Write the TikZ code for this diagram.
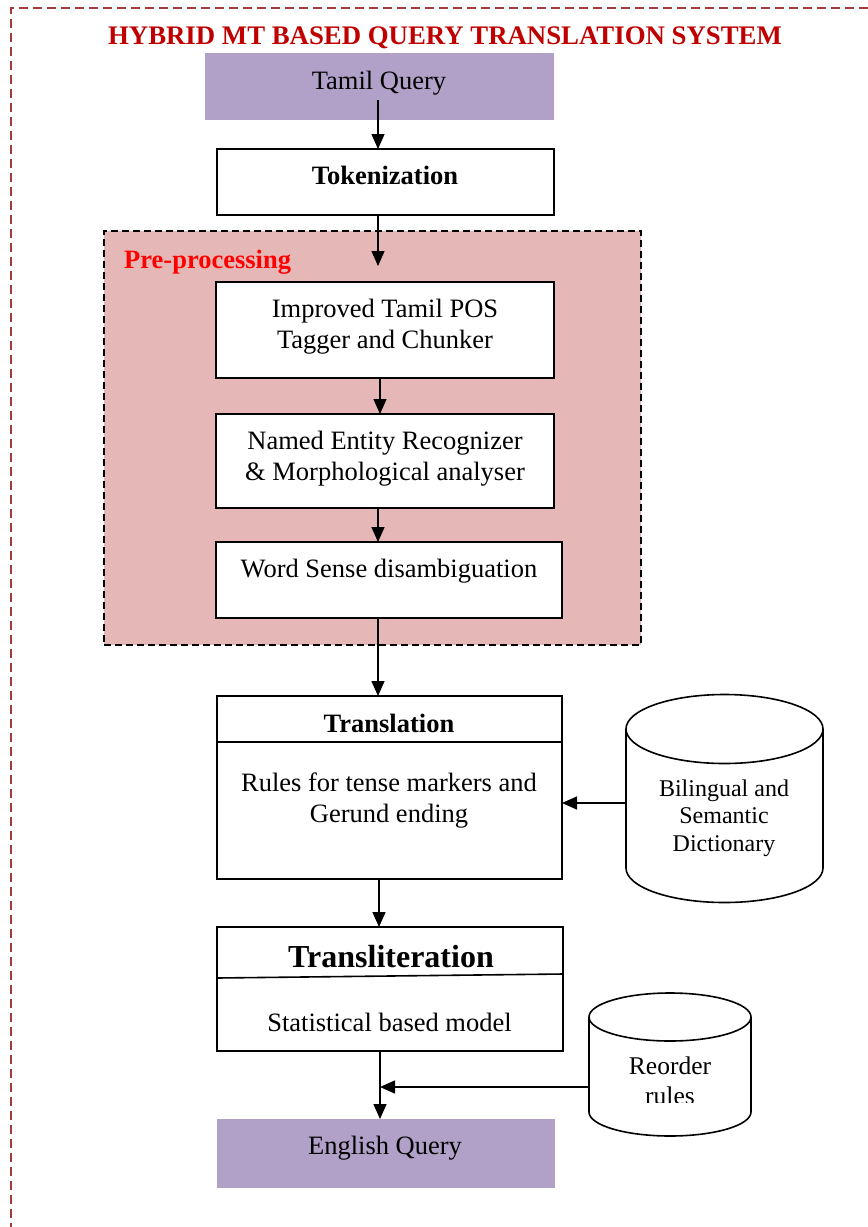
\documentclass[tikz,border=0pt]{standalone}
\usepackage{fontspec}
\setmainfont{Liberation Serif}
\usetikzlibrary{arrows.meta}
\definecolor{lav}{HTML}{B1A1C8}
\definecolor{pinkbg}{HTML}{E5B8B7}
\definecolor{titlered}{HTML}{C00000}
\definecolor{framecol}{HTML}{A33B3B}
\newcommand\mlines[1]{\begin{tabular}[t]{@{}c@{}}#1\end{tabular}}
\begin{document}
\begin{tikzpicture}[x=1pt,y=-1pt,
 box/.style={draw=black,line width=1.6pt,fill=white,inner sep=0pt,outer sep=0pt,anchor=north west},
 fillbox/.style={fill=lav,inner sep=0pt,outer sep=0pt,anchor=north west},
 txt/.style={inner sep=0pt,anchor=base,font=\fontsize{26.5}{31}\selectfont},
 ctxt/.style={inner sep=0pt,anchor=base,font=\fontsize{24}{27.5}\selectfont},
 arr/.style={line width=1.4pt,-{Triangle[length=15pt,width=13pt]}},
 ghost/.style={inner sep=0pt,outer sep=0pt,anchor=north west},
 cylline/.style={line width=1.6pt}
]
\useasboundingbox (0,0) rectangle (868,1227);
\fill[white] (0,0) rectangle (868,1227);
\draw[framecol,line width=1.4pt,dash pattern=on 9pt off 5pt] (11,1260) -- (11,8) -- (900,8);

% title
\node[txt,font=\fontsize{26.8}{31}\selectfont\bfseries,text=titlered] (title) at (445,44) {HYBRID MT BASED QUERY TRANSLATION SYSTEM};

% boxes
\node[fillbox,minimum width=349pt,minimum height=67pt] (tq) at (205,53) {};
\node[box,minimum width=337pt,minimum height=66pt] (tok) at (217,149) {};
\node[ghost,fill=pinkbg,draw=black,line width=1.6pt,dash pattern=on 7pt off 4pt,minimum width=537pt,minimum height=414pt] (pre) at (104,231) {};
\node[box,minimum width=338pt,minimum height=96pt] (pos) at (216,282) {};
\node[box,minimum width=338pt,minimum height=94pt] (ner) at (216,414) {};
\node[box,minimum width=346pt,minimum height=76pt] (wsd) at (216,542) {};
\node[box,minimum width=345pt,minimum height=183pt] (trans) at (217,696) {};
\draw[line width=1.6pt] (trans.west |- 0,742) -- (trans.east |- 0,742);
\node[box,minimum width=346pt,minimum height=124pt] (transl) at (217,927) {};
\draw[line width=1.6pt] (217,978) -- (563,974);
\node[fillbox,minimum width=338pt,minimum height=69pt] (eq) at (217,1119) {};

% cylinders
\node[ghost,minimum width=197pt,minimum height=208pt] (cyl1) at (626,695) {};
\draw[cylline,fill=white] (626,729) -- (626,868) arc[start angle=180,end angle=0,x radius=98.5,y radius=34.5] -- (823,729) arc[start angle=0,end angle=-180,x radius=98.5,y radius=34.5] -- cycle;
\draw[cylline] (626,729) arc[start angle=180,end angle=0,x radius=98.5,y radius=34.5];
\node[ghost,minimum width=162pt,minimum height=143pt] (cyl2) at (589,993) {};
\draw[cylline,fill=white] (589,1017) -- (589,1112) arc[start angle=180,end angle=0,x radius=81,y radius=24] -- (751,1017) arc[start angle=0,end angle=-180,x radius=81,y radius=24] -- cycle;
\draw[cylline] (589,1017) arc[start angle=180,end angle=0,x radius=81,y radius=24];

% texts
\node[txt] (tqt) at (379,89) {Tamil Query};
\node[txt,font=\fontsize{26.5}{31}\selectfont\bfseries] (tokt) at (385,184) {Tokenization};
\node[txt,anchor=base west,font=\fontsize{26.5}{31}\selectfont\bfseries,text=red] (pret) at (124,268) {Pre-processing};
\node[txt] (post) at (385,317) {\mlines{Improved Tamil POS\\Tagger and Chunker}};
\node[txt] (nert) at (385,449) {\mlines{Named Entity Recognizer\\\& Morphological analyser}};
\node[txt] (wsdt) at (389,577) {Word Sense disambiguation};
\node[txt,font=\fontsize{26.5}{31}\selectfont\bfseries] (transh) at (389,732) {Translation};
\node[txt] (transb) at (389,791) {\mlines{Rules for tense markers and\\Gerund ending}};
\node[txt,font=\fontsize{32}{36}\selectfont\bfseries] (translh) at (391,967) {Transliteration};
\node[txt] (translb) at (389.5,1031) {Statistical based model};
\node[txt] (eqt) at (385,1154) {English Query};
\node[ctxt] (cyl1t) at (724,796) {\mlines{Bilingual and\\Semantic\\Dictionary}};
\begin{scope}
\clip (589,1000) rectangle (751,1102);
\node[txt,font=\fontsize{25.5}{30}\selectfont] (cyl2t) at (670,1074) {\mlines{Reorder\\rules}};
\end{scope}

% arrows
\coordinate (s1) at (378,100);
\draw[arr] (s1) -- (s1 |- tok.north);
\coordinate (e2) at (378,266);
\draw[arr] (e2 |- tok.south) -- (e2);
\coordinate (x3) at (380,0);
\draw[arr] (x3 |- pos.south) -- (x3 |- ner.north);
\coordinate (x4) at (378,0);
\draw[arr] (x4 |- ner.south) -- (x4 |- wsd.north);
\draw[arr] (x4 |- wsd.south) -- (x4 |- trans.north);
\coordinate (x7) at (379,0);
\draw[arr] (x7 |- trans.south) -- (x7 |- transl.north);
\coordinate (c1) at (0,803);
\draw[arr] (cyl1.west |- c1) -- (trans.east |- c1);
\coordinate (j) at (380,1087);
\draw[arr] (cyl2.west |- j) -- (j);
\draw[arr] (j |- transl.south) -- (j |- eq.north);
\end{tikzpicture}
\end{document}
